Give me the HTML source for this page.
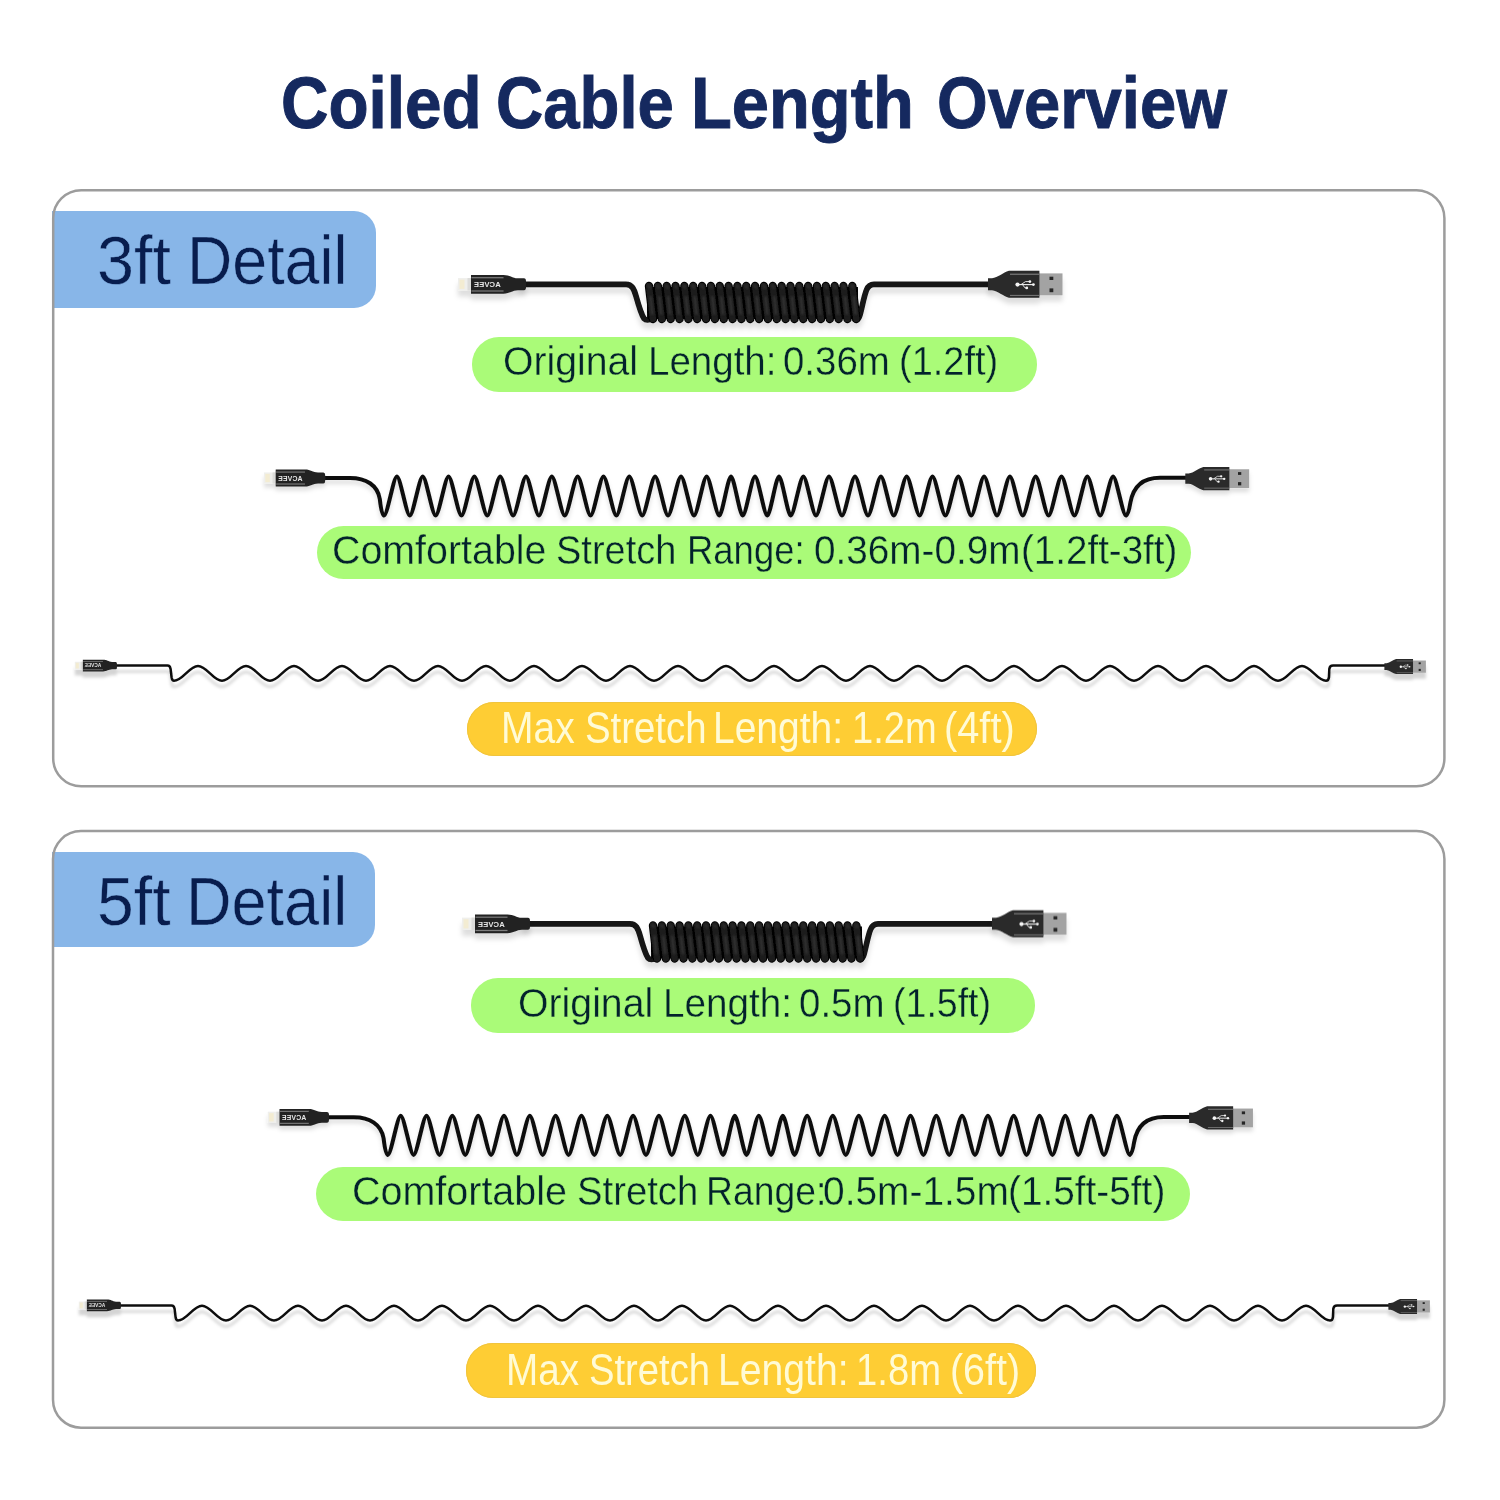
<!DOCTYPE html>
<html><head><meta charset="utf-8"><title>Coiled Cable Length Overview</title>
<style>
html,body{margin:0;padding:0;background:#fff;}
body{width:1500px;height:1500px;position:relative;overflow:hidden;font-family:"Liberation Sans",sans-serif;}
.t{position:absolute;white-space:nowrap;line-height:1;transform-origin:0 0;}
.box{position:absolute;box-sizing:border-box;border:2.5px solid #a0a0a0;border-radius:29px;}
.lab{position:absolute;background:#88b6e8;border-radius:0 22px 22px 0;}
.pill{position:absolute;border-radius:27px;}
.pill.g{background:#aafb78;}
.pill.y{background:#fecd34;box-shadow:inset 0 0 0 1px #f0c43e;}
.cables{position:absolute;left:0;top:0;}
</style></head>
<body>
<div class="lab" style="left:52px;top:210.8px;width:323.6px;height:96.8px"></div>
<div class="lab" style="left:52px;top:852.4px;width:322.8px;height:94.8px"></div>
<div class="pill g" style="left:472.3px;top:337.3px;width:564.3px;height:54.4px"></div>
<div class="pill g" style="left:317px;top:525.7px;width:874.2px;height:53.8px"></div>
<div class="pill y" style="left:466.5px;top:701.7px;width:570.0px;height:54.4px"></div>
<div class="pill g" style="left:471.2px;top:978.2px;width:564.0px;height:54.4px"></div>
<div class="pill g" style="left:316px;top:1167.2px;width:874.4px;height:54.0px"></div>
<div class="pill y" style="left:466px;top:1343.2px;width:569.6px;height:54.4px"></div>
<svg class="cables" width="1500" height="1500" viewBox="0 0 1500 1500">
<defs>
<filter id="sh" x="-5%" y="-50%" width="110%" height="200%"><feDropShadow dx="0" dy="6" stdDeviation="2.8" flood-color="#000" flood-opacity="0.13"/></filter>
<filter id="sh2" x="-5%" y="-50%" width="110%" height="200%"><feDropShadow dx="0" dy="4" stdDeviation="2" flood-color="#000" flood-opacity="0.13"/></filter>
<filter id="sh3" x="-5%" y="-50%" width="110%" height="200%"><feDropShadow dx="0" dy="6" stdDeviation="1.7" flood-color="#000" flood-opacity="0.17"/></filter>
<filter id="bl" x="-10%" y="-50%" width="120%" height="200%"><feGaussianBlur stdDeviation="1.0"/></filter>
</defs>
<rect x="53.2" y="190.25" width="1391.2" height="596.1" rx="28" ry="28" fill="none" stroke="#9c9c9c" stroke-width="2.5"/>
<rect x="53.0" y="831.1" width="1391.4" height="596.6" rx="28" ry="28" fill="none" stroke="#9c9c9c" stroke-width="2.5"/>
<g transform="translate(0,0)"><g filter="url(#sh)"><path d="M520,284.3 L626,284.3 C632,284.3 634,289 636,296 C638.5,305 641,314 644,318.5 Q646,320.5 650,319.5" stroke="#141414" stroke-width="5.7" fill="none" stroke-linecap="round"/><path d="M855,319.5 Q858.5,320 859.8,315.5 C862,308 864,296 866.5,290 C868,286 870,284.3 874,284.3 L990,284.3" stroke="#141414" stroke-width="5.7" fill="none" stroke-linecap="round"/><rect x="647" y="287" width="211" height="32" fill="#070707"/><path d="M649.00,286 L653.00,319" stroke="#000" stroke-width="8.4" stroke-linecap="round"/><path d="M657.84,286 L661.84,319" stroke="#000" stroke-width="8.4" stroke-linecap="round"/><path d="M666.68,286 L670.68,319" stroke="#000" stroke-width="8.4" stroke-linecap="round"/><path d="M675.52,286 L679.52,319" stroke="#000" stroke-width="8.4" stroke-linecap="round"/><path d="M684.36,286 L688.36,319" stroke="#000" stroke-width="8.4" stroke-linecap="round"/><path d="M693.20,286 L697.20,319" stroke="#000" stroke-width="8.4" stroke-linecap="round"/><path d="M702.04,286 L706.04,319" stroke="#000" stroke-width="8.4" stroke-linecap="round"/><path d="M710.88,286 L714.88,319" stroke="#000" stroke-width="8.4" stroke-linecap="round"/><path d="M719.72,286 L723.72,319" stroke="#000" stroke-width="8.4" stroke-linecap="round"/><path d="M728.56,286 L732.56,319" stroke="#000" stroke-width="8.4" stroke-linecap="round"/><path d="M737.40,286 L741.40,319" stroke="#000" stroke-width="8.4" stroke-linecap="round"/><path d="M746.24,286 L750.24,319" stroke="#000" stroke-width="8.4" stroke-linecap="round"/><path d="M755.08,286 L759.08,319" stroke="#000" stroke-width="8.4" stroke-linecap="round"/><path d="M763.92,286 L767.92,319" stroke="#000" stroke-width="8.4" stroke-linecap="round"/><path d="M772.76,286 L776.76,319" stroke="#000" stroke-width="8.4" stroke-linecap="round"/><path d="M781.60,286 L785.60,319" stroke="#000" stroke-width="8.4" stroke-linecap="round"/><path d="M790.44,286 L794.44,319" stroke="#000" stroke-width="8.4" stroke-linecap="round"/><path d="M799.28,286 L803.28,319" stroke="#000" stroke-width="8.4" stroke-linecap="round"/><path d="M808.12,286 L812.12,319" stroke="#000" stroke-width="8.4" stroke-linecap="round"/><path d="M816.96,286 L820.96,319" stroke="#000" stroke-width="8.4" stroke-linecap="round"/><path d="M825.80,286 L829.80,319" stroke="#000" stroke-width="8.4" stroke-linecap="round"/><path d="M834.64,286 L838.64,319" stroke="#000" stroke-width="8.4" stroke-linecap="round"/><path d="M843.48,286 L847.48,319" stroke="#000" stroke-width="8.4" stroke-linecap="round"/><path d="M852.32,286 L856.32,319" stroke="#000" stroke-width="8.4" stroke-linecap="round"/><path d="M649.00,286 L653.00,319" stroke="#1b1b1b" stroke-width="6.4" stroke-linecap="round"/><path d="M657.84,286 L661.84,319" stroke="#1b1b1b" stroke-width="6.4" stroke-linecap="round"/><path d="M666.68,286 L670.68,319" stroke="#1b1b1b" stroke-width="6.4" stroke-linecap="round"/><path d="M675.52,286 L679.52,319" stroke="#1b1b1b" stroke-width="6.4" stroke-linecap="round"/><path d="M684.36,286 L688.36,319" stroke="#1b1b1b" stroke-width="6.4" stroke-linecap="round"/><path d="M693.20,286 L697.20,319" stroke="#1b1b1b" stroke-width="6.4" stroke-linecap="round"/><path d="M702.04,286 L706.04,319" stroke="#1b1b1b" stroke-width="6.4" stroke-linecap="round"/><path d="M710.88,286 L714.88,319" stroke="#1b1b1b" stroke-width="6.4" stroke-linecap="round"/><path d="M719.72,286 L723.72,319" stroke="#1b1b1b" stroke-width="6.4" stroke-linecap="round"/><path d="M728.56,286 L732.56,319" stroke="#1b1b1b" stroke-width="6.4" stroke-linecap="round"/><path d="M737.40,286 L741.40,319" stroke="#1b1b1b" stroke-width="6.4" stroke-linecap="round"/><path d="M746.24,286 L750.24,319" stroke="#1b1b1b" stroke-width="6.4" stroke-linecap="round"/><path d="M755.08,286 L759.08,319" stroke="#1b1b1b" stroke-width="6.4" stroke-linecap="round"/><path d="M763.92,286 L767.92,319" stroke="#1b1b1b" stroke-width="6.4" stroke-linecap="round"/><path d="M772.76,286 L776.76,319" stroke="#1b1b1b" stroke-width="6.4" stroke-linecap="round"/><path d="M781.60,286 L785.60,319" stroke="#1b1b1b" stroke-width="6.4" stroke-linecap="round"/><path d="M790.44,286 L794.44,319" stroke="#1b1b1b" stroke-width="6.4" stroke-linecap="round"/><path d="M799.28,286 L803.28,319" stroke="#1b1b1b" stroke-width="6.4" stroke-linecap="round"/><path d="M808.12,286 L812.12,319" stroke="#1b1b1b" stroke-width="6.4" stroke-linecap="round"/><path d="M816.96,286 L820.96,319" stroke="#1b1b1b" stroke-width="6.4" stroke-linecap="round"/><path d="M825.80,286 L829.80,319" stroke="#1b1b1b" stroke-width="6.4" stroke-linecap="round"/><path d="M834.64,286 L838.64,319" stroke="#1b1b1b" stroke-width="6.4" stroke-linecap="round"/><path d="M843.48,286 L847.48,319" stroke="#1b1b1b" stroke-width="6.4" stroke-linecap="round"/><path d="M852.32,286 L856.32,319" stroke="#1b1b1b" stroke-width="6.4" stroke-linecap="round"/></g><g filter="url(#bl)"><path d="M650.60,297 L652.30,314" stroke="#3a3a3a" stroke-width="1.8" stroke-linecap="round"/><path d="M648.50,285 L649.80,288" stroke="#3a3a3a" stroke-width="1.4" stroke-linecap="round"/><path d="M659.44,297 L661.14,314" stroke="#3a3a3a" stroke-width="1.8" stroke-linecap="round"/><path d="M657.34,285 L658.64,288" stroke="#3a3a3a" stroke-width="1.4" stroke-linecap="round"/><path d="M668.28,297 L669.98,314" stroke="#3a3a3a" stroke-width="1.8" stroke-linecap="round"/><path d="M666.18,285 L667.48,288" stroke="#3a3a3a" stroke-width="1.4" stroke-linecap="round"/><path d="M677.12,297 L678.82,314" stroke="#3a3a3a" stroke-width="1.8" stroke-linecap="round"/><path d="M675.02,285 L676.32,288" stroke="#3a3a3a" stroke-width="1.4" stroke-linecap="round"/><path d="M685.96,297 L687.66,314" stroke="#3a3a3a" stroke-width="1.8" stroke-linecap="round"/><path d="M683.86,285 L685.16,288" stroke="#3a3a3a" stroke-width="1.4" stroke-linecap="round"/><path d="M694.80,297 L696.50,314" stroke="#3a3a3a" stroke-width="1.8" stroke-linecap="round"/><path d="M692.70,285 L694.00,288" stroke="#3a3a3a" stroke-width="1.4" stroke-linecap="round"/><path d="M703.64,297 L705.34,314" stroke="#3a3a3a" stroke-width="1.8" stroke-linecap="round"/><path d="M701.54,285 L702.84,288" stroke="#3a3a3a" stroke-width="1.4" stroke-linecap="round"/><path d="M712.48,297 L714.18,314" stroke="#3a3a3a" stroke-width="1.8" stroke-linecap="round"/><path d="M710.38,285 L711.68,288" stroke="#3a3a3a" stroke-width="1.4" stroke-linecap="round"/><path d="M721.32,297 L723.02,314" stroke="#3a3a3a" stroke-width="1.8" stroke-linecap="round"/><path d="M719.22,285 L720.52,288" stroke="#3a3a3a" stroke-width="1.4" stroke-linecap="round"/><path d="M730.16,297 L731.86,314" stroke="#3a3a3a" stroke-width="1.8" stroke-linecap="round"/><path d="M728.06,285 L729.36,288" stroke="#3a3a3a" stroke-width="1.4" stroke-linecap="round"/><path d="M739.00,297 L740.70,314" stroke="#3a3a3a" stroke-width="1.8" stroke-linecap="round"/><path d="M736.90,285 L738.20,288" stroke="#3a3a3a" stroke-width="1.4" stroke-linecap="round"/><path d="M747.84,297 L749.54,314" stroke="#3a3a3a" stroke-width="1.8" stroke-linecap="round"/><path d="M745.74,285 L747.04,288" stroke="#3a3a3a" stroke-width="1.4" stroke-linecap="round"/><path d="M756.68,297 L758.38,314" stroke="#3a3a3a" stroke-width="1.8" stroke-linecap="round"/><path d="M754.58,285 L755.88,288" stroke="#3a3a3a" stroke-width="1.4" stroke-linecap="round"/><path d="M765.52,297 L767.22,314" stroke="#3a3a3a" stroke-width="1.8" stroke-linecap="round"/><path d="M763.42,285 L764.72,288" stroke="#3a3a3a" stroke-width="1.4" stroke-linecap="round"/><path d="M774.36,297 L776.06,314" stroke="#3a3a3a" stroke-width="1.8" stroke-linecap="round"/><path d="M772.26,285 L773.56,288" stroke="#3a3a3a" stroke-width="1.4" stroke-linecap="round"/><path d="M783.20,297 L784.90,314" stroke="#3a3a3a" stroke-width="1.8" stroke-linecap="round"/><path d="M781.10,285 L782.40,288" stroke="#3a3a3a" stroke-width="1.4" stroke-linecap="round"/><path d="M792.04,297 L793.74,314" stroke="#3a3a3a" stroke-width="1.8" stroke-linecap="round"/><path d="M789.94,285 L791.24,288" stroke="#3a3a3a" stroke-width="1.4" stroke-linecap="round"/><path d="M800.88,297 L802.58,314" stroke="#3a3a3a" stroke-width="1.8" stroke-linecap="round"/><path d="M798.78,285 L800.08,288" stroke="#3a3a3a" stroke-width="1.4" stroke-linecap="round"/><path d="M809.72,297 L811.42,314" stroke="#3a3a3a" stroke-width="1.8" stroke-linecap="round"/><path d="M807.62,285 L808.92,288" stroke="#3a3a3a" stroke-width="1.4" stroke-linecap="round"/><path d="M818.56,297 L820.26,314" stroke="#3a3a3a" stroke-width="1.8" stroke-linecap="round"/><path d="M816.46,285 L817.76,288" stroke="#3a3a3a" stroke-width="1.4" stroke-linecap="round"/><path d="M827.40,297 L829.10,314" stroke="#3a3a3a" stroke-width="1.8" stroke-linecap="round"/><path d="M825.30,285 L826.60,288" stroke="#3a3a3a" stroke-width="1.4" stroke-linecap="round"/><path d="M836.24,297 L837.94,314" stroke="#3a3a3a" stroke-width="1.8" stroke-linecap="round"/><path d="M834.14,285 L835.44,288" stroke="#3a3a3a" stroke-width="1.4" stroke-linecap="round"/><path d="M845.08,297 L846.78,314" stroke="#3a3a3a" stroke-width="1.8" stroke-linecap="round"/><path d="M842.98,285 L844.28,288" stroke="#3a3a3a" stroke-width="1.4" stroke-linecap="round"/><path d="M853.92,297 L855.62,314" stroke="#3a3a3a" stroke-width="1.8" stroke-linecap="round"/><path d="M851.82,285 L853.12,288" stroke="#3a3a3a" stroke-width="1.4" stroke-linecap="round"/></g><g filter="url(#sh)"><g transform="translate(458.00,284.30) scale(1.0)"><rect x="0" y="-6.2" width="13.6" height="12.4" fill="#efefec"/><rect x="1.5" y="-4.6" width="5" height="9.2" fill="#f3ecd2"/><rect x="9.5" y="-6.2" width="4.1" height="12.4" fill="#dcdcda"/><path d="M13,-9.35 L45.5,-9.35 C52,-9.35 54,-6.2 60,-6 L66,-6 Q68,-6 68,-3 L68,3 Q68,6 66,6 L60,6 C54,6.2 52,9.35 45.5,9.35 L13,9.35 Z" fill="#242424"/><rect x="13.5" y="-7.2" width="32" height="1.2" fill="#7d7d7d"/><rect x="13.5" y="6.1" width="32" height="1.2" fill="#7d7d7d"/><text x="0" y="0" transform="translate(29.2,2.9) scale(-1,1)" font-family="Liberation Sans" font-weight="700" font-size="7.6" letter-spacing="0.2" text-anchor="middle" fill="#e6e6e6">ACVEE</text></g><g transform="translate(988.00,284.30) scale(1.0)"><rect x="51" y="-10.9" width="23.5" height="21.9" fill="#a3a3a3"/><rect x="61.5" y="-7.6" width="3.8" height="3.3" fill="#262626"/><rect x="61.5" y="4.1" width="3.8" height="3.8" fill="#262626"/><path d="M0,-6 L4,-6 C10,-6.5 15,-12 21,-13.5 L51.4,-13.5 L51.4,13.5 L21,13.5 C15,12 10,6.5 4,6 L0,6 Z" fill="#2a2a2a"/><rect x="22" y="-10.6" width="29.4" height="1" fill="#8a8a8a"/><rect x="22" y="10.6" width="29.4" height="1" fill="#7a7a7a"/><g fill="#f4f4f4" stroke="#f4f4f4"><circle cx="29.5" cy="0.3" r="2.1" stroke="none"/><path d="M29.5,0.3 L45.4,0.3" stroke-width="1.1" fill="none"/><path d="M33,0.3 L37.5,-2.7 L41.9,-2.7 M34.5,0.3 L37,3.6 L38.8,3.6" stroke-width="0.9" fill="none"/><circle cx="41.9" cy="-2.7" r="1.35" stroke="none"/><circle cx="38.8" cy="3.6" r="1.35" stroke="none"/><circle cx="45.4" cy="0.3" r="1.4" stroke="none"/></g></g></g></g>
<g transform="translate(0,0)"><g filter="url(#sh2)"><path d="M325,478 L350,478 C366,478 377.5,485 379.8,499 Q381.5,514.5 384,515.6 C387.36,515.6 393.55,476.4 396.91,476.4 C400.27,476.4 406.46,515.6 409.82,515.6 C413.18,515.6 419.37,476.4 422.73,476.4 C426.09,476.4 432.28,515.6 435.64,515.6 C439.00,515.6 445.19,476.4 448.55,476.4 C451.91,476.4 458.10,515.6 461.46,515.6 C464.82,515.6 471.01,476.4 474.37,476.4 C477.73,476.4 483.92,515.6 487.28,515.6 C490.64,515.6 496.83,476.4 500.19,476.4 C503.55,476.4 509.74,515.6 513.10,515.6 C516.46,515.6 522.65,476.4 526.01,476.4 C529.37,476.4 535.56,515.6 538.92,515.6 C542.28,515.6 548.47,476.4 551.83,476.4 C555.19,476.4 561.38,515.6 564.74,515.6 C568.10,515.6 574.29,476.4 577.65,476.4 C581.01,476.4 587.20,515.6 590.56,515.6 C593.92,515.6 600.11,476.4 603.47,476.4 C606.83,476.4 613.02,515.6 616.38,515.6 C619.74,515.6 625.93,476.4 629.29,476.4 C632.65,476.4 638.84,515.6 642.20,515.6 C645.56,515.6 651.75,476.4 655.11,476.4 C658.47,476.4 664.66,515.6 668.02,515.6 C671.40,515.6 677.63,476.4 681.01,476.4 C684.39,476.4 690.62,515.6 694.00,515.6 C697.29,515.6 703.36,476.4 706.65,476.4 C709.94,476.4 716.01,515.6 719.30,515.6 C722.34,515.6 727.96,476.4 731.00,476.4 C734.04,476.4 739.66,515.6 742.70,515.6 C745.90,515.6 751.80,476.4 755.00,476.4 C758.20,476.4 764.10,515.6 767.30,515.6 C770.34,515.6 775.96,476.4 779.00,476.4 C782.04,476.4 787.66,515.6 790.70,515.6 C793.99,515.6 800.06,476.4 803.35,476.4 C806.64,476.4 812.71,515.6 816.00,515.6 C819.38,515.6 825.62,476.4 829.00,476.4 C832.38,476.4 838.62,515.6 842.00,515.6 C845.38,515.6 851.62,476.4 855.00,476.4 C858.38,476.4 864.62,515.6 868.00,515.6 C871.35,515.6 877.55,476.4 880.90,476.4 C884.25,476.4 890.45,515.6 893.80,515.6 C897.15,515.6 903.35,476.4 906.70,476.4 C910.05,476.4 916.25,515.6 919.60,515.6 C922.95,515.6 929.15,476.4 932.50,476.4 C935.85,476.4 942.05,515.6 945.40,515.6 C948.75,515.6 954.95,476.4 958.30,476.4 C961.65,476.4 967.85,515.6 971.20,515.6 C974.55,515.6 980.75,476.4 984.10,476.4 C987.45,476.4 993.65,515.6 997.00,515.6 C1000.35,515.6 1006.55,476.4 1009.90,476.4 C1013.25,476.4 1019.45,515.6 1022.80,515.6 C1026.15,515.6 1032.35,476.4 1035.70,476.4 C1039.05,476.4 1045.25,515.6 1048.60,515.6 C1051.95,515.6 1058.15,476.4 1061.50,476.4 C1064.85,476.4 1071.05,515.6 1074.40,515.6 C1077.75,515.6 1083.95,476.4 1087.30,476.4 C1090.65,476.4 1096.85,515.6 1100.20,515.6 C1103.55,515.6 1109.75,476.4 1113.10,476.4 C1116.45,476.4 1122.65,515.6 1126.00,515.6 Q1128.5,514.5 1130.3,503 C1133,487 1142,477.7 1160,477.7 L1187,477.7" stroke="#111" stroke-width="4.0" fill="none" stroke-linejoin="round" stroke-linecap="round"/><g transform="translate(264.00,478.00) scale(0.9)"><rect x="0" y="-6.2" width="13.6" height="12.4" fill="#efefec"/><rect x="1.5" y="-4.6" width="5" height="9.2" fill="#f3ecd2"/><rect x="9.5" y="-6.2" width="4.1" height="12.4" fill="#dcdcda"/><path d="M13,-9.35 L45.5,-9.35 C52,-9.35 54,-6.2 60,-6 L66,-6 Q68,-6 68,-3 L68,3 Q68,6 66,6 L60,6 C54,6.2 52,9.35 45.5,9.35 L13,9.35 Z" fill="#242424"/><rect x="13.5" y="-7.2" width="32" height="1.2" fill="#7d7d7d"/><rect x="13.5" y="6.1" width="32" height="1.2" fill="#7d7d7d"/><text x="0" y="0" transform="translate(29.2,2.9) scale(-1,1)" font-family="Liberation Sans" font-weight="700" font-size="7.6" letter-spacing="0.2" text-anchor="middle" fill="#e6e6e6">ACVEE</text></g><g transform="translate(1185.30,478.60) scale(0.857)"><rect x="51" y="-10.9" width="23.5" height="21.9" fill="#a3a3a3"/><rect x="61.5" y="-7.6" width="3.8" height="3.3" fill="#262626"/><rect x="61.5" y="4.1" width="3.8" height="3.8" fill="#262626"/><path d="M0,-6 L4,-6 C10,-6.5 15,-12 21,-13.5 L51.4,-13.5 L51.4,13.5 L21,13.5 C15,12 10,6.5 4,6 L0,6 Z" fill="#2a2a2a"/><rect x="22" y="-10.6" width="29.4" height="1" fill="#8a8a8a"/><rect x="22" y="10.6" width="29.4" height="1" fill="#7a7a7a"/><g fill="#f4f4f4" stroke="#f4f4f4"><circle cx="29.5" cy="0.3" r="2.1" stroke="none"/><path d="M29.5,0.3 L45.4,0.3" stroke-width="1.1" fill="none"/><path d="M33,0.3 L37.5,-2.7 L41.9,-2.7 M34.5,0.3 L37,3.6 L38.8,3.6" stroke-width="0.9" fill="none"/><circle cx="41.9" cy="-2.7" r="1.35" stroke="none"/><circle cx="38.8" cy="3.6" r="1.35" stroke="none"/><circle cx="45.4" cy="0.3" r="1.4" stroke="none"/></g></g></g></g>
<g transform="translate(0,0)"><g filter="url(#sh3)"><path d="M116,665.6 L167.5,665.6 Q170,665.6 170.6,669 L171.6,677.5 Q172.2,680.8 174.0,680.8 C182.64,680.8 189.36,666.0 198.00,666.0 C206.64,666.0 213.36,680.8 222.00,680.8 C230.64,680.8 237.36,666.0 246.00,666.0 C254.64,666.0 261.36,680.8 270.00,680.8 C278.64,680.8 285.36,666.0 294.00,666.0 C302.64,666.0 309.36,680.8 318.00,680.8 C326.64,680.8 333.36,666.0 342.00,666.0 C350.64,666.0 357.36,680.8 366.00,680.8 C374.64,680.8 381.36,666.0 390.00,666.0 C398.64,666.0 405.36,680.8 414.00,680.8 C422.64,680.8 429.36,666.0 438.00,666.0 C446.64,666.0 453.36,680.8 462.00,680.8 C470.64,680.8 477.36,666.0 486.00,666.0 C494.64,666.0 501.36,680.8 510.00,680.8 C518.64,680.8 525.36,666.0 534.00,666.0 C542.64,666.0 549.36,680.8 558.00,680.8 C566.64,680.8 573.36,666.0 582.00,666.0 C590.64,666.0 597.36,680.8 606.00,680.8 C614.64,680.8 621.36,666.0 630.00,666.0 C638.64,666.0 645.36,680.8 654.00,680.8 C662.64,680.8 669.36,666.0 678.00,666.0 C686.64,666.0 693.36,680.8 702.00,680.8 C710.64,680.8 717.36,666.0 726.00,666.0 C734.64,666.0 741.36,680.8 750.00,680.8 C758.64,680.8 765.36,666.0 774.00,666.0 C782.64,666.0 789.36,680.8 798.00,680.8 C806.64,680.8 813.36,666.0 822.00,666.0 C830.64,666.0 837.36,680.8 846.00,680.8 C854.64,680.8 861.36,666.0 870.00,666.0 C878.64,666.0 885.36,680.8 894.00,680.8 C902.64,680.8 909.36,666.0 918.00,666.0 C926.64,666.0 933.36,680.8 942.00,680.8 C950.64,680.8 957.36,666.0 966.00,666.0 C974.64,666.0 981.36,680.8 990.00,680.8 C998.64,680.8 1005.36,666.0 1014.00,666.0 C1022.64,666.0 1029.36,680.8 1038.00,680.8 C1046.64,680.8 1053.36,666.0 1062.00,666.0 C1070.64,666.0 1077.36,680.8 1086.00,680.8 C1094.64,680.8 1101.36,666.0 1110.00,666.0 C1118.64,666.0 1125.36,680.8 1134.00,680.8 C1142.64,680.8 1149.36,666.0 1158.00,666.0 C1166.64,666.0 1173.36,680.8 1182.00,680.8 C1190.64,680.8 1197.36,666.0 1206.00,666.0 C1214.64,666.0 1221.36,680.8 1230.00,680.8 C1238.64,680.8 1245.36,666.0 1254.00,666.0 C1262.64,666.0 1269.36,680.8 1278.00,680.8 C1286.64,680.8 1293.36,666.0 1302.00,666.0 C1310.64,666.0 1317.36,680.8 1326.00,680.8 Q1328.60,680.8 1329.00,677 L1329.30,669 Q1329.80,665.6 1333.00,665.6 L1386,665.6" stroke="#101010" stroke-width="2.5" fill="none" stroke-linejoin="round" stroke-linecap="round"/><g transform="translate(74.80,665.60) scale(0.62)"><rect x="0" y="-6.2" width="13.6" height="12.4" fill="#efefec"/><rect x="1.5" y="-4.6" width="5" height="9.2" fill="#f3ecd2"/><rect x="9.5" y="-6.2" width="4.1" height="12.4" fill="#dcdcda"/><path d="M13,-9.35 L45.5,-9.35 C52,-9.35 54,-6.2 60,-6 L66,-6 Q68,-6 68,-3 L68,3 Q68,6 66,6 L60,6 C54,6.2 52,9.35 45.5,9.35 L13,9.35 Z" fill="#242424"/><rect x="13.5" y="-7.2" width="32" height="1.2" fill="#7d7d7d"/><rect x="13.5" y="6.1" width="32" height="1.2" fill="#7d7d7d"/><text x="0" y="0" transform="translate(29.2,2.9) scale(-1,1)" font-family="Liberation Sans" font-weight="700" font-size="7.6" letter-spacing="0.2" text-anchor="middle" fill="#e6e6e6">ACVEE</text></g><g transform="translate(1384.40,666.60) scale(0.557)"><rect x="51" y="-10.9" width="23.5" height="21.9" fill="#a3a3a3"/><rect x="61.5" y="-7.6" width="3.8" height="3.3" fill="#262626"/><rect x="61.5" y="4.1" width="3.8" height="3.8" fill="#262626"/><path d="M0,-6 L4,-6 C10,-6.5 15,-12 21,-13.5 L51.4,-13.5 L51.4,13.5 L21,13.5 C15,12 10,6.5 4,6 L0,6 Z" fill="#2a2a2a"/><rect x="22" y="-10.6" width="29.4" height="1" fill="#8a8a8a"/><rect x="22" y="10.6" width="29.4" height="1" fill="#7a7a7a"/><g fill="#f4f4f4" stroke="#f4f4f4"><circle cx="29.5" cy="0.3" r="2.1" stroke="none"/><path d="M29.5,0.3 L45.4,0.3" stroke-width="1.1" fill="none"/><path d="M33,0.3 L37.5,-2.7 L41.9,-2.7 M34.5,0.3 L37,3.6 L38.8,3.6" stroke-width="0.9" fill="none"/><circle cx="41.9" cy="-2.7" r="1.35" stroke="none"/><circle cx="38.8" cy="3.6" r="1.35" stroke="none"/><circle cx="45.4" cy="0.3" r="1.4" stroke="none"/></g></g></g></g>
<g transform="translate(4,639.5)"><g filter="url(#sh)"><path d="M520,284.3 L626,284.3 C632,284.3 634,289 636,296 C638.5,305 641,314 644,318.5 Q646,320.5 650,319.5" stroke="#141414" stroke-width="5.7" fill="none" stroke-linecap="round"/><path d="M855,319.5 Q858.5,320 859.8,315.5 C862,308 864,296 866.5,290 C868,286 870,284.3 874,284.3 L990,284.3" stroke="#141414" stroke-width="5.7" fill="none" stroke-linecap="round"/><rect x="647" y="287" width="211" height="32" fill="#070707"/><path d="M649.00,286 L653.00,319" stroke="#000" stroke-width="8.4" stroke-linecap="round"/><path d="M657.84,286 L661.84,319" stroke="#000" stroke-width="8.4" stroke-linecap="round"/><path d="M666.68,286 L670.68,319" stroke="#000" stroke-width="8.4" stroke-linecap="round"/><path d="M675.52,286 L679.52,319" stroke="#000" stroke-width="8.4" stroke-linecap="round"/><path d="M684.36,286 L688.36,319" stroke="#000" stroke-width="8.4" stroke-linecap="round"/><path d="M693.20,286 L697.20,319" stroke="#000" stroke-width="8.4" stroke-linecap="round"/><path d="M702.04,286 L706.04,319" stroke="#000" stroke-width="8.4" stroke-linecap="round"/><path d="M710.88,286 L714.88,319" stroke="#000" stroke-width="8.4" stroke-linecap="round"/><path d="M719.72,286 L723.72,319" stroke="#000" stroke-width="8.4" stroke-linecap="round"/><path d="M728.56,286 L732.56,319" stroke="#000" stroke-width="8.4" stroke-linecap="round"/><path d="M737.40,286 L741.40,319" stroke="#000" stroke-width="8.4" stroke-linecap="round"/><path d="M746.24,286 L750.24,319" stroke="#000" stroke-width="8.4" stroke-linecap="round"/><path d="M755.08,286 L759.08,319" stroke="#000" stroke-width="8.4" stroke-linecap="round"/><path d="M763.92,286 L767.92,319" stroke="#000" stroke-width="8.4" stroke-linecap="round"/><path d="M772.76,286 L776.76,319" stroke="#000" stroke-width="8.4" stroke-linecap="round"/><path d="M781.60,286 L785.60,319" stroke="#000" stroke-width="8.4" stroke-linecap="round"/><path d="M790.44,286 L794.44,319" stroke="#000" stroke-width="8.4" stroke-linecap="round"/><path d="M799.28,286 L803.28,319" stroke="#000" stroke-width="8.4" stroke-linecap="round"/><path d="M808.12,286 L812.12,319" stroke="#000" stroke-width="8.4" stroke-linecap="round"/><path d="M816.96,286 L820.96,319" stroke="#000" stroke-width="8.4" stroke-linecap="round"/><path d="M825.80,286 L829.80,319" stroke="#000" stroke-width="8.4" stroke-linecap="round"/><path d="M834.64,286 L838.64,319" stroke="#000" stroke-width="8.4" stroke-linecap="round"/><path d="M843.48,286 L847.48,319" stroke="#000" stroke-width="8.4" stroke-linecap="round"/><path d="M852.32,286 L856.32,319" stroke="#000" stroke-width="8.4" stroke-linecap="round"/><path d="M649.00,286 L653.00,319" stroke="#1b1b1b" stroke-width="6.4" stroke-linecap="round"/><path d="M657.84,286 L661.84,319" stroke="#1b1b1b" stroke-width="6.4" stroke-linecap="round"/><path d="M666.68,286 L670.68,319" stroke="#1b1b1b" stroke-width="6.4" stroke-linecap="round"/><path d="M675.52,286 L679.52,319" stroke="#1b1b1b" stroke-width="6.4" stroke-linecap="round"/><path d="M684.36,286 L688.36,319" stroke="#1b1b1b" stroke-width="6.4" stroke-linecap="round"/><path d="M693.20,286 L697.20,319" stroke="#1b1b1b" stroke-width="6.4" stroke-linecap="round"/><path d="M702.04,286 L706.04,319" stroke="#1b1b1b" stroke-width="6.4" stroke-linecap="round"/><path d="M710.88,286 L714.88,319" stroke="#1b1b1b" stroke-width="6.4" stroke-linecap="round"/><path d="M719.72,286 L723.72,319" stroke="#1b1b1b" stroke-width="6.4" stroke-linecap="round"/><path d="M728.56,286 L732.56,319" stroke="#1b1b1b" stroke-width="6.4" stroke-linecap="round"/><path d="M737.40,286 L741.40,319" stroke="#1b1b1b" stroke-width="6.4" stroke-linecap="round"/><path d="M746.24,286 L750.24,319" stroke="#1b1b1b" stroke-width="6.4" stroke-linecap="round"/><path d="M755.08,286 L759.08,319" stroke="#1b1b1b" stroke-width="6.4" stroke-linecap="round"/><path d="M763.92,286 L767.92,319" stroke="#1b1b1b" stroke-width="6.4" stroke-linecap="round"/><path d="M772.76,286 L776.76,319" stroke="#1b1b1b" stroke-width="6.4" stroke-linecap="round"/><path d="M781.60,286 L785.60,319" stroke="#1b1b1b" stroke-width="6.4" stroke-linecap="round"/><path d="M790.44,286 L794.44,319" stroke="#1b1b1b" stroke-width="6.4" stroke-linecap="round"/><path d="M799.28,286 L803.28,319" stroke="#1b1b1b" stroke-width="6.4" stroke-linecap="round"/><path d="M808.12,286 L812.12,319" stroke="#1b1b1b" stroke-width="6.4" stroke-linecap="round"/><path d="M816.96,286 L820.96,319" stroke="#1b1b1b" stroke-width="6.4" stroke-linecap="round"/><path d="M825.80,286 L829.80,319" stroke="#1b1b1b" stroke-width="6.4" stroke-linecap="round"/><path d="M834.64,286 L838.64,319" stroke="#1b1b1b" stroke-width="6.4" stroke-linecap="round"/><path d="M843.48,286 L847.48,319" stroke="#1b1b1b" stroke-width="6.4" stroke-linecap="round"/><path d="M852.32,286 L856.32,319" stroke="#1b1b1b" stroke-width="6.4" stroke-linecap="round"/></g><g filter="url(#bl)"><path d="M650.60,297 L652.30,314" stroke="#3a3a3a" stroke-width="1.8" stroke-linecap="round"/><path d="M648.50,285 L649.80,288" stroke="#3a3a3a" stroke-width="1.4" stroke-linecap="round"/><path d="M659.44,297 L661.14,314" stroke="#3a3a3a" stroke-width="1.8" stroke-linecap="round"/><path d="M657.34,285 L658.64,288" stroke="#3a3a3a" stroke-width="1.4" stroke-linecap="round"/><path d="M668.28,297 L669.98,314" stroke="#3a3a3a" stroke-width="1.8" stroke-linecap="round"/><path d="M666.18,285 L667.48,288" stroke="#3a3a3a" stroke-width="1.4" stroke-linecap="round"/><path d="M677.12,297 L678.82,314" stroke="#3a3a3a" stroke-width="1.8" stroke-linecap="round"/><path d="M675.02,285 L676.32,288" stroke="#3a3a3a" stroke-width="1.4" stroke-linecap="round"/><path d="M685.96,297 L687.66,314" stroke="#3a3a3a" stroke-width="1.8" stroke-linecap="round"/><path d="M683.86,285 L685.16,288" stroke="#3a3a3a" stroke-width="1.4" stroke-linecap="round"/><path d="M694.80,297 L696.50,314" stroke="#3a3a3a" stroke-width="1.8" stroke-linecap="round"/><path d="M692.70,285 L694.00,288" stroke="#3a3a3a" stroke-width="1.4" stroke-linecap="round"/><path d="M703.64,297 L705.34,314" stroke="#3a3a3a" stroke-width="1.8" stroke-linecap="round"/><path d="M701.54,285 L702.84,288" stroke="#3a3a3a" stroke-width="1.4" stroke-linecap="round"/><path d="M712.48,297 L714.18,314" stroke="#3a3a3a" stroke-width="1.8" stroke-linecap="round"/><path d="M710.38,285 L711.68,288" stroke="#3a3a3a" stroke-width="1.4" stroke-linecap="round"/><path d="M721.32,297 L723.02,314" stroke="#3a3a3a" stroke-width="1.8" stroke-linecap="round"/><path d="M719.22,285 L720.52,288" stroke="#3a3a3a" stroke-width="1.4" stroke-linecap="round"/><path d="M730.16,297 L731.86,314" stroke="#3a3a3a" stroke-width="1.8" stroke-linecap="round"/><path d="M728.06,285 L729.36,288" stroke="#3a3a3a" stroke-width="1.4" stroke-linecap="round"/><path d="M739.00,297 L740.70,314" stroke="#3a3a3a" stroke-width="1.8" stroke-linecap="round"/><path d="M736.90,285 L738.20,288" stroke="#3a3a3a" stroke-width="1.4" stroke-linecap="round"/><path d="M747.84,297 L749.54,314" stroke="#3a3a3a" stroke-width="1.8" stroke-linecap="round"/><path d="M745.74,285 L747.04,288" stroke="#3a3a3a" stroke-width="1.4" stroke-linecap="round"/><path d="M756.68,297 L758.38,314" stroke="#3a3a3a" stroke-width="1.8" stroke-linecap="round"/><path d="M754.58,285 L755.88,288" stroke="#3a3a3a" stroke-width="1.4" stroke-linecap="round"/><path d="M765.52,297 L767.22,314" stroke="#3a3a3a" stroke-width="1.8" stroke-linecap="round"/><path d="M763.42,285 L764.72,288" stroke="#3a3a3a" stroke-width="1.4" stroke-linecap="round"/><path d="M774.36,297 L776.06,314" stroke="#3a3a3a" stroke-width="1.8" stroke-linecap="round"/><path d="M772.26,285 L773.56,288" stroke="#3a3a3a" stroke-width="1.4" stroke-linecap="round"/><path d="M783.20,297 L784.90,314" stroke="#3a3a3a" stroke-width="1.8" stroke-linecap="round"/><path d="M781.10,285 L782.40,288" stroke="#3a3a3a" stroke-width="1.4" stroke-linecap="round"/><path d="M792.04,297 L793.74,314" stroke="#3a3a3a" stroke-width="1.8" stroke-linecap="round"/><path d="M789.94,285 L791.24,288" stroke="#3a3a3a" stroke-width="1.4" stroke-linecap="round"/><path d="M800.88,297 L802.58,314" stroke="#3a3a3a" stroke-width="1.8" stroke-linecap="round"/><path d="M798.78,285 L800.08,288" stroke="#3a3a3a" stroke-width="1.4" stroke-linecap="round"/><path d="M809.72,297 L811.42,314" stroke="#3a3a3a" stroke-width="1.8" stroke-linecap="round"/><path d="M807.62,285 L808.92,288" stroke="#3a3a3a" stroke-width="1.4" stroke-linecap="round"/><path d="M818.56,297 L820.26,314" stroke="#3a3a3a" stroke-width="1.8" stroke-linecap="round"/><path d="M816.46,285 L817.76,288" stroke="#3a3a3a" stroke-width="1.4" stroke-linecap="round"/><path d="M827.40,297 L829.10,314" stroke="#3a3a3a" stroke-width="1.8" stroke-linecap="round"/><path d="M825.30,285 L826.60,288" stroke="#3a3a3a" stroke-width="1.4" stroke-linecap="round"/><path d="M836.24,297 L837.94,314" stroke="#3a3a3a" stroke-width="1.8" stroke-linecap="round"/><path d="M834.14,285 L835.44,288" stroke="#3a3a3a" stroke-width="1.4" stroke-linecap="round"/><path d="M845.08,297 L846.78,314" stroke="#3a3a3a" stroke-width="1.8" stroke-linecap="round"/><path d="M842.98,285 L844.28,288" stroke="#3a3a3a" stroke-width="1.4" stroke-linecap="round"/><path d="M853.92,297 L855.62,314" stroke="#3a3a3a" stroke-width="1.8" stroke-linecap="round"/><path d="M851.82,285 L853.12,288" stroke="#3a3a3a" stroke-width="1.4" stroke-linecap="round"/></g><g filter="url(#sh)"><g transform="translate(458.00,284.30) scale(1.0)"><rect x="0" y="-6.2" width="13.6" height="12.4" fill="#efefec"/><rect x="1.5" y="-4.6" width="5" height="9.2" fill="#f3ecd2"/><rect x="9.5" y="-6.2" width="4.1" height="12.4" fill="#dcdcda"/><path d="M13,-9.35 L45.5,-9.35 C52,-9.35 54,-6.2 60,-6 L66,-6 Q68,-6 68,-3 L68,3 Q68,6 66,6 L60,6 C54,6.2 52,9.35 45.5,9.35 L13,9.35 Z" fill="#242424"/><rect x="13.5" y="-7.2" width="32" height="1.2" fill="#7d7d7d"/><rect x="13.5" y="6.1" width="32" height="1.2" fill="#7d7d7d"/><text x="0" y="0" transform="translate(29.2,2.9) scale(-1,1)" font-family="Liberation Sans" font-weight="700" font-size="7.6" letter-spacing="0.2" text-anchor="middle" fill="#e6e6e6">ACVEE</text></g><g transform="translate(988.00,284.30) scale(1.0)"><rect x="51" y="-10.9" width="23.5" height="21.9" fill="#a3a3a3"/><rect x="61.5" y="-7.6" width="3.8" height="3.3" fill="#262626"/><rect x="61.5" y="4.1" width="3.8" height="3.8" fill="#262626"/><path d="M0,-6 L4,-6 C10,-6.5 15,-12 21,-13.5 L51.4,-13.5 L51.4,13.5 L21,13.5 C15,12 10,6.5 4,6 L0,6 Z" fill="#2a2a2a"/><rect x="22" y="-10.6" width="29.4" height="1" fill="#8a8a8a"/><rect x="22" y="10.6" width="29.4" height="1" fill="#7a7a7a"/><g fill="#f4f4f4" stroke="#f4f4f4"><circle cx="29.5" cy="0.3" r="2.1" stroke="none"/><path d="M29.5,0.3 L45.4,0.3" stroke-width="1.1" fill="none"/><path d="M33,0.3 L37.5,-2.7 L41.9,-2.7 M34.5,0.3 L37,3.6 L38.8,3.6" stroke-width="0.9" fill="none"/><circle cx="41.9" cy="-2.7" r="1.35" stroke="none"/><circle cx="38.8" cy="3.6" r="1.35" stroke="none"/><circle cx="45.4" cy="0.3" r="1.4" stroke="none"/></g></g></g></g>
<g transform="translate(3.8,639.3)"><g filter="url(#sh2)"><path d="M325,478 L350,478 C366,478 377.5,485 379.8,499 Q381.5,514.5 384,515.6 C387.36,515.6 393.55,476.4 396.91,476.4 C400.27,476.4 406.46,515.6 409.82,515.6 C413.18,515.6 419.37,476.4 422.73,476.4 C426.09,476.4 432.28,515.6 435.64,515.6 C439.00,515.6 445.19,476.4 448.55,476.4 C451.91,476.4 458.10,515.6 461.46,515.6 C464.82,515.6 471.01,476.4 474.37,476.4 C477.73,476.4 483.92,515.6 487.28,515.6 C490.64,515.6 496.83,476.4 500.19,476.4 C503.55,476.4 509.74,515.6 513.10,515.6 C516.46,515.6 522.65,476.4 526.01,476.4 C529.37,476.4 535.56,515.6 538.92,515.6 C542.28,515.6 548.47,476.4 551.83,476.4 C555.19,476.4 561.38,515.6 564.74,515.6 C568.10,515.6 574.29,476.4 577.65,476.4 C581.01,476.4 587.20,515.6 590.56,515.6 C593.92,515.6 600.11,476.4 603.47,476.4 C606.83,476.4 613.02,515.6 616.38,515.6 C619.74,515.6 625.93,476.4 629.29,476.4 C632.65,476.4 638.84,515.6 642.20,515.6 C645.56,515.6 651.75,476.4 655.11,476.4 C658.47,476.4 664.66,515.6 668.02,515.6 C671.40,515.6 677.63,476.4 681.01,476.4 C684.39,476.4 690.62,515.6 694.00,515.6 C697.29,515.6 703.36,476.4 706.65,476.4 C709.94,476.4 716.01,515.6 719.30,515.6 C722.34,515.6 727.96,476.4 731.00,476.4 C734.04,476.4 739.66,515.6 742.70,515.6 C745.90,515.6 751.80,476.4 755.00,476.4 C758.20,476.4 764.10,515.6 767.30,515.6 C770.34,515.6 775.96,476.4 779.00,476.4 C782.04,476.4 787.66,515.6 790.70,515.6 C793.99,515.6 800.06,476.4 803.35,476.4 C806.64,476.4 812.71,515.6 816.00,515.6 C819.38,515.6 825.62,476.4 829.00,476.4 C832.38,476.4 838.62,515.6 842.00,515.6 C845.38,515.6 851.62,476.4 855.00,476.4 C858.38,476.4 864.62,515.6 868.00,515.6 C871.35,515.6 877.55,476.4 880.90,476.4 C884.25,476.4 890.45,515.6 893.80,515.6 C897.15,515.6 903.35,476.4 906.70,476.4 C910.05,476.4 916.25,515.6 919.60,515.6 C922.95,515.6 929.15,476.4 932.50,476.4 C935.85,476.4 942.05,515.6 945.40,515.6 C948.75,515.6 954.95,476.4 958.30,476.4 C961.65,476.4 967.85,515.6 971.20,515.6 C974.55,515.6 980.75,476.4 984.10,476.4 C987.45,476.4 993.65,515.6 997.00,515.6 C1000.35,515.6 1006.55,476.4 1009.90,476.4 C1013.25,476.4 1019.45,515.6 1022.80,515.6 C1026.15,515.6 1032.35,476.4 1035.70,476.4 C1039.05,476.4 1045.25,515.6 1048.60,515.6 C1051.95,515.6 1058.15,476.4 1061.50,476.4 C1064.85,476.4 1071.05,515.6 1074.40,515.6 C1077.75,515.6 1083.95,476.4 1087.30,476.4 C1090.65,476.4 1096.85,515.6 1100.20,515.6 C1103.55,515.6 1109.75,476.4 1113.10,476.4 C1116.45,476.4 1122.65,515.6 1126.00,515.6 Q1128.5,514.5 1130.3,503 C1133,487 1142,477.7 1160,477.7 L1187,477.7" stroke="#111" stroke-width="4.0" fill="none" stroke-linejoin="round" stroke-linecap="round"/><g transform="translate(264.00,478.00) scale(0.9)"><rect x="0" y="-6.2" width="13.6" height="12.4" fill="#efefec"/><rect x="1.5" y="-4.6" width="5" height="9.2" fill="#f3ecd2"/><rect x="9.5" y="-6.2" width="4.1" height="12.4" fill="#dcdcda"/><path d="M13,-9.35 L45.5,-9.35 C52,-9.35 54,-6.2 60,-6 L66,-6 Q68,-6 68,-3 L68,3 Q68,6 66,6 L60,6 C54,6.2 52,9.35 45.5,9.35 L13,9.35 Z" fill="#242424"/><rect x="13.5" y="-7.2" width="32" height="1.2" fill="#7d7d7d"/><rect x="13.5" y="6.1" width="32" height="1.2" fill="#7d7d7d"/><text x="0" y="0" transform="translate(29.2,2.9) scale(-1,1)" font-family="Liberation Sans" font-weight="700" font-size="7.6" letter-spacing="0.2" text-anchor="middle" fill="#e6e6e6">ACVEE</text></g><g transform="translate(1185.30,478.60) scale(0.857)"><rect x="51" y="-10.9" width="23.5" height="21.9" fill="#a3a3a3"/><rect x="61.5" y="-7.6" width="3.8" height="3.3" fill="#262626"/><rect x="61.5" y="4.1" width="3.8" height="3.8" fill="#262626"/><path d="M0,-6 L4,-6 C10,-6.5 15,-12 21,-13.5 L51.4,-13.5 L51.4,13.5 L21,13.5 C15,12 10,6.5 4,6 L0,6 Z" fill="#2a2a2a"/><rect x="22" y="-10.6" width="29.4" height="1" fill="#8a8a8a"/><rect x="22" y="10.6" width="29.4" height="1" fill="#7a7a7a"/><g fill="#f4f4f4" stroke="#f4f4f4"><circle cx="29.5" cy="0.3" r="2.1" stroke="none"/><path d="M29.5,0.3 L45.4,0.3" stroke-width="1.1" fill="none"/><path d="M33,0.3 L37.5,-2.7 L41.9,-2.7 M34.5,0.3 L37,3.6 L38.8,3.6" stroke-width="0.9" fill="none"/><circle cx="41.9" cy="-2.7" r="1.35" stroke="none"/><circle cx="38.8" cy="3.6" r="1.35" stroke="none"/><circle cx="45.4" cy="0.3" r="1.4" stroke="none"/></g></g></g></g>
<g transform="translate(4,639.8)"><g filter="url(#sh3)"><path d="M116,665.6 L167.5,665.6 Q170,665.6 170.6,669 L171.6,677.5 Q172.2,680.8 174.0,680.8 C182.64,680.8 189.36,666.0 198.00,666.0 C206.64,666.0 213.36,680.8 222.00,680.8 C230.64,680.8 237.36,666.0 246.00,666.0 C254.64,666.0 261.36,680.8 270.00,680.8 C278.64,680.8 285.36,666.0 294.00,666.0 C302.64,666.0 309.36,680.8 318.00,680.8 C326.64,680.8 333.36,666.0 342.00,666.0 C350.64,666.0 357.36,680.8 366.00,680.8 C374.64,680.8 381.36,666.0 390.00,666.0 C398.64,666.0 405.36,680.8 414.00,680.8 C422.64,680.8 429.36,666.0 438.00,666.0 C446.64,666.0 453.36,680.8 462.00,680.8 C470.64,680.8 477.36,666.0 486.00,666.0 C494.64,666.0 501.36,680.8 510.00,680.8 C518.64,680.8 525.36,666.0 534.00,666.0 C542.64,666.0 549.36,680.8 558.00,680.8 C566.64,680.8 573.36,666.0 582.00,666.0 C590.64,666.0 597.36,680.8 606.00,680.8 C614.64,680.8 621.36,666.0 630.00,666.0 C638.64,666.0 645.36,680.8 654.00,680.8 C662.64,680.8 669.36,666.0 678.00,666.0 C686.64,666.0 693.36,680.8 702.00,680.8 C710.64,680.8 717.36,666.0 726.00,666.0 C734.64,666.0 741.36,680.8 750.00,680.8 C758.64,680.8 765.36,666.0 774.00,666.0 C782.64,666.0 789.36,680.8 798.00,680.8 C806.64,680.8 813.36,666.0 822.00,666.0 C830.64,666.0 837.36,680.8 846.00,680.8 C854.64,680.8 861.36,666.0 870.00,666.0 C878.64,666.0 885.36,680.8 894.00,680.8 C902.64,680.8 909.36,666.0 918.00,666.0 C926.64,666.0 933.36,680.8 942.00,680.8 C950.64,680.8 957.36,666.0 966.00,666.0 C974.64,666.0 981.36,680.8 990.00,680.8 C998.64,680.8 1005.36,666.0 1014.00,666.0 C1022.64,666.0 1029.36,680.8 1038.00,680.8 C1046.64,680.8 1053.36,666.0 1062.00,666.0 C1070.64,666.0 1077.36,680.8 1086.00,680.8 C1094.64,680.8 1101.36,666.0 1110.00,666.0 C1118.64,666.0 1125.36,680.8 1134.00,680.8 C1142.64,680.8 1149.36,666.0 1158.00,666.0 C1166.64,666.0 1173.36,680.8 1182.00,680.8 C1190.64,680.8 1197.36,666.0 1206.00,666.0 C1214.64,666.0 1221.36,680.8 1230.00,680.8 C1238.64,680.8 1245.36,666.0 1254.00,666.0 C1262.64,666.0 1269.36,680.8 1278.00,680.8 C1286.64,680.8 1293.36,666.0 1302.00,666.0 C1310.64,666.0 1317.36,680.8 1326.00,680.8 Q1328.60,680.8 1329.00,677 L1329.30,669 Q1329.80,665.6 1333.00,665.6 L1386,665.6" stroke="#101010" stroke-width="2.5" fill="none" stroke-linejoin="round" stroke-linecap="round"/><g transform="translate(74.80,665.60) scale(0.62)"><rect x="0" y="-6.2" width="13.6" height="12.4" fill="#efefec"/><rect x="1.5" y="-4.6" width="5" height="9.2" fill="#f3ecd2"/><rect x="9.5" y="-6.2" width="4.1" height="12.4" fill="#dcdcda"/><path d="M13,-9.35 L45.5,-9.35 C52,-9.35 54,-6.2 60,-6 L66,-6 Q68,-6 68,-3 L68,3 Q68,6 66,6 L60,6 C54,6.2 52,9.35 45.5,9.35 L13,9.35 Z" fill="#242424"/><rect x="13.5" y="-7.2" width="32" height="1.2" fill="#7d7d7d"/><rect x="13.5" y="6.1" width="32" height="1.2" fill="#7d7d7d"/><text x="0" y="0" transform="translate(29.2,2.9) scale(-1,1)" font-family="Liberation Sans" font-weight="700" font-size="7.6" letter-spacing="0.2" text-anchor="middle" fill="#e6e6e6">ACVEE</text></g><g transform="translate(1384.40,666.60) scale(0.557)"><rect x="51" y="-10.9" width="23.5" height="21.9" fill="#a3a3a3"/><rect x="61.5" y="-7.6" width="3.8" height="3.3" fill="#262626"/><rect x="61.5" y="4.1" width="3.8" height="3.8" fill="#262626"/><path d="M0,-6 L4,-6 C10,-6.5 15,-12 21,-13.5 L51.4,-13.5 L51.4,13.5 L21,13.5 C15,12 10,6.5 4,6 L0,6 Z" fill="#2a2a2a"/><rect x="22" y="-10.6" width="29.4" height="1" fill="#8a8a8a"/><rect x="22" y="10.6" width="29.4" height="1" fill="#7a7a7a"/><g fill="#f4f4f4" stroke="#f4f4f4"><circle cx="29.5" cy="0.3" r="2.1" stroke="none"/><path d="M29.5,0.3 L45.4,0.3" stroke-width="1.1" fill="none"/><path d="M33,0.3 L37.5,-2.7 L41.9,-2.7 M34.5,0.3 L37,3.6 L38.8,3.6" stroke-width="0.9" fill="none"/><circle cx="41.9" cy="-2.7" r="1.35" stroke="none"/><circle cx="38.8" cy="3.6" r="1.35" stroke="none"/><circle cx="45.4" cy="0.3" r="1.4" stroke="none"/></g></g></g></g>
</svg>
<div class="t" style="left:281.07px;top:66.71px;font-size:72.46px;font-weight:700;color:#15295f;transform:scaleX(0.9061);-webkit-text-stroke:1px #15295f">Coiled</div>
<div class="t" style="left:496.09px;top:66.71px;font-size:72.46px;font-weight:700;color:#15295f;transform:scaleX(0.9014);-webkit-text-stroke:1px #15295f">Cable</div>
<div class="t" style="left:691.02px;top:66.71px;font-size:72.46px;font-weight:700;color:#15295f;transform:scaleX(0.9224);-webkit-text-stroke:1px #15295f">Length</div>
<div class="t" style="left:936.79px;top:66.71px;font-size:72.46px;font-weight:700;color:#15295f;transform:scaleX(0.8997);-webkit-text-stroke:1px #15295f">Overview</div>
<div class="t" style="left:97.34px;top:226.51px;font-size:68.70px;font-weight:400;color:#081d4e;transform:scaleX(0.9687);-webkit-text-stroke:0.5px #88b6e8">3ft</div>
<div class="t" style="left:187.38px;top:226.51px;font-size:68.70px;font-weight:400;color:#081d4e;transform:scaleX(0.9133);-webkit-text-stroke:0.5px #88b6e8">Detail</div>
<div class="t" style="left:97.35px;top:866.76px;font-size:68.99px;font-weight:400;color:#081d4e;transform:scaleX(0.9592);-webkit-text-stroke:0.5px #88b6e8">5ft</div>
<div class="t" style="left:185.96px;top:866.76px;font-size:68.99px;font-weight:400;color:#081d4e;transform:scaleX(0.9137);-webkit-text-stroke:0.5px #88b6e8">Detail</div>
<div class="t" style="left:502.94px;top:341.31px;font-size:41.16px;font-weight:400;color:#03222c;transform:scaleX(0.9521);-webkit-text-stroke:0.35px #aafb78">Original</div>
<div class="t" style="left:647.62px;top:341.31px;font-size:41.16px;font-weight:400;color:#03222c;transform:scaleX(0.9357);-webkit-text-stroke:0.35px #aafb78">Length:</div>
<div class="t" style="left:783.46px;top:341.31px;font-size:41.16px;font-weight:400;color:#03222c;transform:scaleX(0.9336);-webkit-text-stroke:0.35px #aafb78">0.36m</div>
<div class="t" style="left:898.82px;top:341.31px;font-size:41.16px;font-weight:400;color:#03222c;transform:scaleX(0.9221);-webkit-text-stroke:0.35px #aafb78">(1.2ft)</div>
<div class="t" style="left:332.43px;top:529.71px;font-size:40.58px;font-weight:400;color:#03222c;transform:scaleX(0.9701);-webkit-text-stroke:0.35px #aafb78">Comfortable</div>
<div class="t" style="left:556.30px;top:529.71px;font-size:40.58px;font-weight:400;color:#03222c;transform:scaleX(0.9364);-webkit-text-stroke:0.35px #aafb78">Stretch</div>
<div class="t" style="left:686.58px;top:529.71px;font-size:40.58px;font-weight:400;color:#03222c;transform:scaleX(0.8985);-webkit-text-stroke:0.35px #aafb78">Range:</div>
<div class="t" style="left:813.65px;top:529.71px;font-size:40.58px;font-weight:400;color:#03222c;transform:scaleX(0.9537);-webkit-text-stroke:0.35px #aafb78">0.36m-0.9m</div>
<div class="t" style="left:1020.89px;top:529.71px;font-size:40.58px;font-weight:400;color:#03222c;transform:scaleX(0.9500);-webkit-text-stroke:0.35px #aafb78">(1.2ft-3ft)</div>
<div class="t" style="left:500.88px;top:706.47px;font-size:43.91px;font-weight:400;color:#fffbd6;transform:scaleX(0.8881);">Max</div>
<div class="t" style="left:584.88px;top:706.47px;font-size:43.91px;font-weight:400;color:#fffbd6;transform:scaleX(0.8736);">Stretch</div>
<div class="t" style="left:713.38px;top:706.47px;font-size:43.91px;font-weight:400;color:#fffbd6;transform:scaleX(0.8878);">Length:</div>
<div class="t" style="left:852.05px;top:706.47px;font-size:43.91px;font-weight:400;color:#fffbd6;transform:scaleX(0.8671);">1.2m</div>
<div class="t" style="left:944.01px;top:706.47px;font-size:43.91px;font-weight:400;color:#fffbd6;transform:scaleX(0.9054);">(4ft)</div>
<div class="t" style="left:517.84px;top:983.46px;font-size:40.87px;font-weight:400;color:#03222c;transform:scaleX(0.9604);-webkit-text-stroke:0.35px #aafb78">Original</div>
<div class="t" style="left:663.11px;top:983.46px;font-size:40.87px;font-weight:400;color:#03222c;transform:scaleX(0.9454);-webkit-text-stroke:0.35px #aafb78">Length:</div>
<div class="t" style="left:799.26px;top:983.46px;font-size:40.87px;font-weight:400;color:#03222c;transform:scaleX(0.9418);-webkit-text-stroke:0.35px #aafb78">0.5m</div>
<div class="t" style="left:893.25px;top:983.46px;font-size:40.87px;font-weight:400;color:#03222c;transform:scaleX(0.9188);-webkit-text-stroke:0.35px #aafb78">(1.5ft)</div>
<div class="t" style="left:352.43px;top:1171.41px;font-size:41.16px;font-weight:400;color:#03222c;transform:scaleX(0.9591);-webkit-text-stroke:0.35px #aafb78">Comfortable</div>
<div class="t" style="left:576.89px;top:1171.41px;font-size:41.16px;font-weight:400;color:#03222c;transform:scaleX(0.9296);-webkit-text-stroke:0.35px #aafb78">Stretch</div>
<div class="t" style="left:706.02px;top:1171.41px;font-size:41.16px;font-weight:400;color:#03222c;transform:scaleX(0.9065);-webkit-text-stroke:0.35px #aafb78">Range:</div>
<div class="t" style="left:822.84px;top:1171.41px;font-size:41.16px;font-weight:400;color:#03222c;transform:scaleX(0.9448);-webkit-text-stroke:0.35px #aafb78">0.5m-1.5m</div>
<div class="t" style="left:1008.47px;top:1171.41px;font-size:41.16px;font-weight:400;color:#03222c;transform:scaleX(0.9422);-webkit-text-stroke:0.35px #aafb78">(1.5ft-5ft)</div>
<div class="t" style="left:505.71px;top:1347.50px;font-size:43.77px;font-weight:400;color:#fffbd6;transform:scaleX(0.8834);">Max</div>
<div class="t" style="left:589.29px;top:1347.50px;font-size:43.77px;font-weight:400;color:#fffbd6;transform:scaleX(0.8735);">Stretch</div>
<div class="t" style="left:717.67px;top:1347.50px;font-size:43.77px;font-weight:400;color:#fffbd6;transform:scaleX(0.8944);">Length:</div>
<div class="t" style="left:855.64px;top:1347.50px;font-size:43.77px;font-weight:400;color:#fffbd6;transform:scaleX(0.8733);">1.8m</div>
<div class="t" style="left:949.94px;top:1347.50px;font-size:43.77px;font-weight:400;color:#fffbd6;transform:scaleX(0.9001);">(6ft)</div>
</body></html>
